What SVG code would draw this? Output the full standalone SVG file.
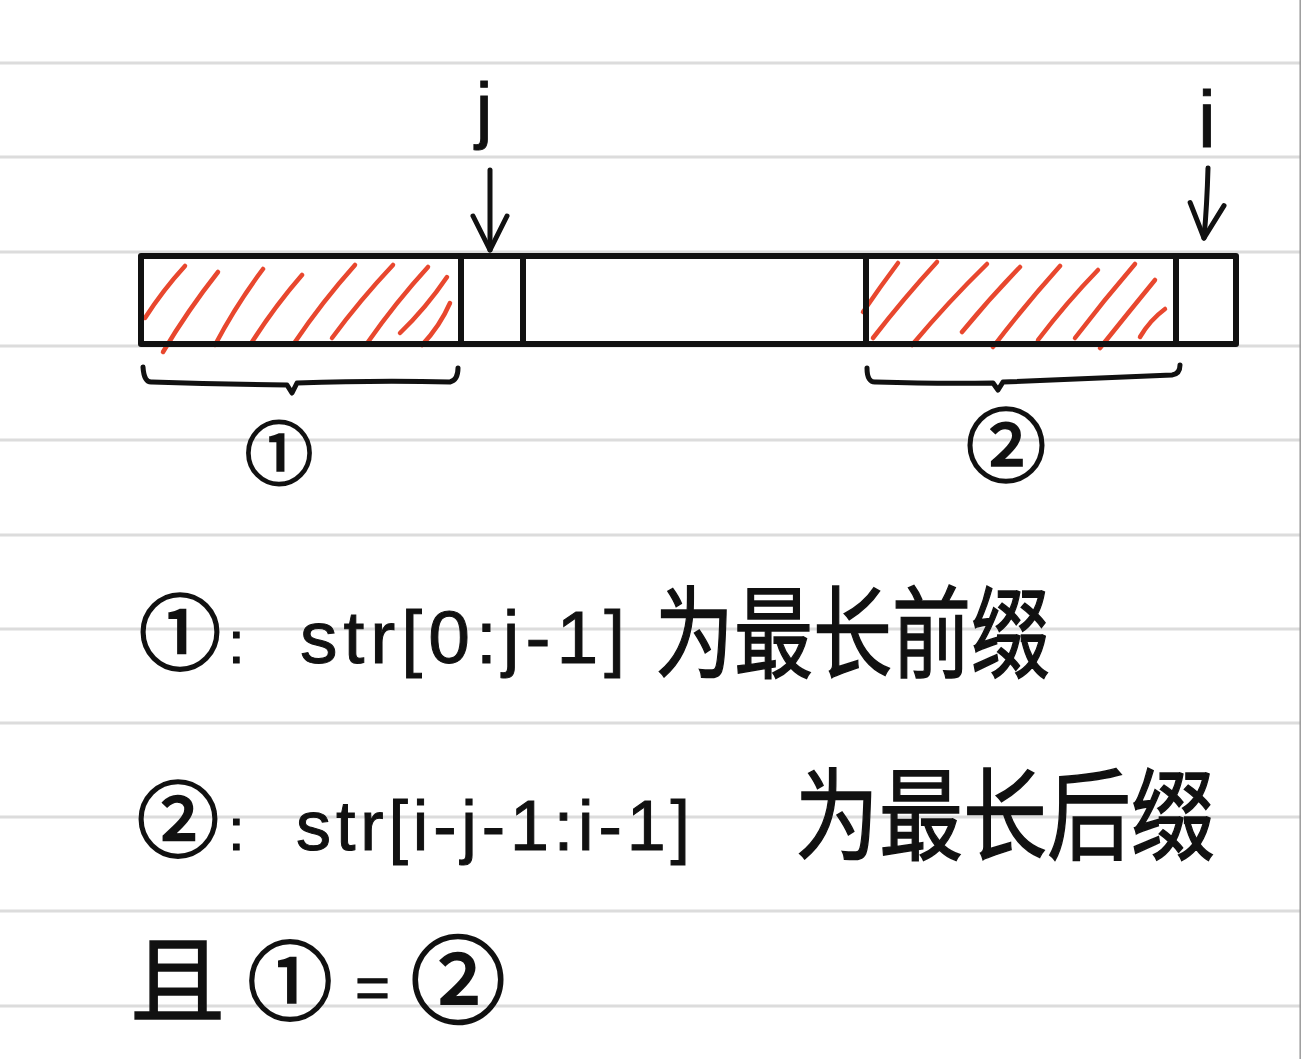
<svg xmlns="http://www.w3.org/2000/svg" width="1301" height="1059" viewBox="0 0 1301 1059">
<defs>
<style>
.rule{stroke:#dcdcdc;stroke-width:3}
.ink{fill:none;stroke:#111;stroke-width:6;stroke-linecap:round;stroke-linejoin:round}
.thin{fill:none;stroke:#111;stroke-width:5;stroke-linecap:round;stroke-linejoin:round}
.hatch{fill:none;stroke:#e8472e;stroke-width:4.5;stroke-linecap:round}
.cjk{font-family:"Noto Sans CJK SC","Noto Sans",sans-serif;fill:#111;stroke:#111;stroke-width:1.5}
.circ{font-family:"Noto Sans CJK SC","Noto Sans",sans-serif;fill:#111;stroke:#111;stroke-width:2.5}
.lat{font-family:"Liberation Sans","DejaVu Sans",sans-serif;fill:#111;stroke:#111;stroke-width:1}
</style>
<marker id="head" markerUnits="userSpaceOnUse" markerWidth="45" markerHeight="50" viewBox="-40 -25 45 50" refX="0" refY="0" orient="auto">
<path d="M-34,-17 L0,0 L-34,17" fill="none" stroke="#111" stroke-width="5" stroke-linecap="round" stroke-linejoin="round"/>
</marker>
</defs>
<rect width="1301" height="1059" fill="#ffffff"/>
<g id="ruled-lines">
<line class="rule" x1="0" y1="63" x2="1301" y2="63"/>
<line class="rule" x1="0" y1="157" x2="1301" y2="157"/>
<line class="rule" x1="0" y1="252" x2="1301" y2="252"/>
<line class="rule" x1="0" y1="346" x2="1301" y2="346"/>
<line class="rule" x1="0" y1="440" x2="1301" y2="440"/>
<line class="rule" x1="0" y1="535" x2="1301" y2="535"/>
<line class="rule" x1="0" y1="629" x2="1301" y2="629"/>
<line class="rule" x1="0" y1="723" x2="1301" y2="723"/>
<line class="rule" x1="0" y1="817" x2="1301" y2="817"/>
<line class="rule" x1="0" y1="911" x2="1301" y2="911"/>
<line class="rule" x1="0" y1="1006" x2="1301" y2="1006"/>
<line x1="1300.2" y1="0" x2="1300.2" y2="1059" stroke="#9a9a9a" stroke-width="1.5"/>
</g>
<g id="hatch-prefix">
<path class="hatch" d="M145,318 Q163,290 185,266"/>
<path class="hatch" d="M163,352 Q188,310 218,272"/>
<path class="hatch" d="M215,345 Q236,305 263,269"/>
<path class="hatch" d="M252,342 Q275,306 302,275"/>
<path class="hatch" d="M295,342 Q322,302 355,265"/>
<path class="hatch" d="M332,338 Q360,300 393,265"/>
<path class="hatch" d="M368,342 Q396,302 428,267"/>
<path class="hatch" d="M400,333 Q426,308 447,277"/>
<path class="hatch" d="M422,345 Q440,326 450,303"/>
</g>
<g id="hatch-suffix">
<path class="hatch" d="M863,312 Q880,287 898,263"/>
<path class="hatch" d="M873,338 Q904,298 937,262"/>
<path class="hatch" d="M912,345 Q948,302 987,264"/>
<path class="hatch" d="M962,332 Q990,298 1020,267"/>
<path class="hatch" d="M993,347 Q1025,305 1060,266"/>
<path class="hatch" d="M1038,340 Q1066,303 1098,270"/>
<path class="hatch" d="M1075,338 Q1104,300 1135,264"/>
<path class="hatch" d="M1100,348 Q1128,313 1155,280"/>
<path class="hatch" d="M1140,337 Q1150,320 1165,309"/>
</g>
<g id="cell-prefix"><rect class="ink" x="141" y="256" width="320" height="88"/></g>
<g id="cell-j"><rect class="ink" x="461" y="256" width="62" height="88"/></g>
<g id="cell-middle"><rect class="ink" x="523" y="256" width="343" height="88"/></g>
<g id="cell-suffix"><rect class="ink" x="866" y="256" width="310" height="88"/></g>
<g id="cell-i"><rect class="ink" x="1176" y="256" width="60" height="88"/></g>
<g id="pointer-j">
<text class="lat" x="484" y="135" font-size="75" text-anchor="middle">j</text>
</g>
<g id="pointer-i">
<text class="lat" x="1207" y="147" font-size="80" text-anchor="middle">i</text>
</g>
<g id="connectors">
<path class="thin" d="M490,170 L490,250" marker-end="url(#head)"/>
<path class="thin" d="M1208,168 Q1207,205 1204,238" marker-end="url(#head)"/>
<path class="thin" d="M143,367 Q144,383 152,382 Q215,384 287,385 L292,393 L297,383 Q380,380 450,382 Q458,380 458,368"/>
<path class="thin" d="M867,368 Q867,383 876,382 Q940,384 993,383 L998,390 L1003,382 Q1100,378 1172,375 Q1180,374 1180,365"/>
</g>
<g id="label-1">
<text class="circ" x="279" y="479" font-size="68" text-anchor="middle">①</text>
</g>
<g id="label-2">
<text class="circ" x="1006" y="475" font-size="80" text-anchor="middle">②</text>
</g>
<g id="note-1">
<text class="circ" x="180" y="663" font-size="82" text-anchor="middle">①</text>
<text class="lat" x="228" y="663" font-size="60">:</text>
<text class="lat" x="300" y="663" font-size="75" textLength="325" lengthAdjust="spacing">str[0:j-1]</text>
<text class="cjk" x="655" y="670" font-size="100" textLength="395" lengthAdjust="spacingAndGlyphs">为最长前缀</text>
</g>
<g id="note-2">
<text class="circ" x="178" y="850" font-size="82" text-anchor="middle">②</text>
<text class="lat" x="228" y="850" font-size="60">:</text>
<text class="lat" x="296" y="850" font-size="70" textLength="394" lengthAdjust="spacing">str[i-j-1:i-1]</text>
<text class="cjk" x="795" y="852" font-size="100" textLength="420" lengthAdjust="spacingAndGlyphs">为最长后缀</text>
</g>
<g id="note-3">
<text class="cjk" x="130" y="1016" font-size="95" textLength="95" lengthAdjust="spacingAndGlyphs">且</text>
<text class="circ" x="290" y="1013" font-size="85" text-anchor="middle">①</text>
<text class="lat" x="355" y="1008" font-size="60">=</text>
<text class="circ" x="458" y="1016" font-size="95" text-anchor="middle">②</text>
</g>
</svg>
